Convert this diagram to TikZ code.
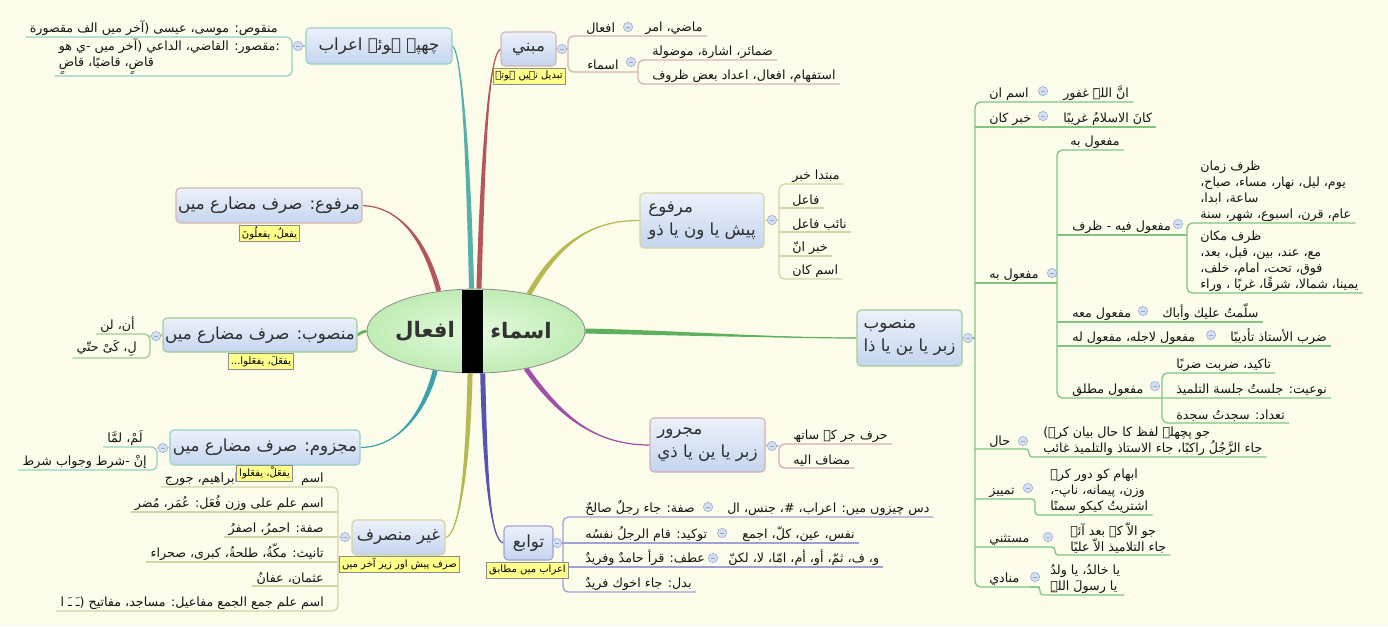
\documentclass[tikz,border=0pt]{standalone}
\usepackage{fontspec}
\setmainfont{DejaVu Sans}
\newfontfamily\arabicfont[Script=Arabic]{DejaVu Sans}
\TeXXeTstate=1
\usetikzlibrary{calc,shapes.geometric}
\newcommand\ar[1]{\beginR#1\endR}
\definecolor{bgc}{RGB}{252,252,234}
\definecolor{tTop}{RGB}{236,241,251}
\definecolor{tBot}{RGB}{196,213,238}
\definecolor{tText}{RGB}{45,45,45}
\definecolor{txt}{RGB}{20,20,20}
\definecolor{noteY}{RGB}{255,255,140}
\definecolor{knobF}{RGB}{212,223,243}
\definecolor{knobD}{RGB}{150,168,205}
\definecolor{cTeal}{RGB}{86,175,168}
\definecolor{cTealB}{RGB}{60,162,170}
\definecolor{cRed}{RGB}{181,87,90}
\definecolor{cOlive}{RGB}{184,184,80}
\definecolor{cGreen}{RGB}{94,176,94}
\definecolor{cBlue}{RGB}{85,85,176}
\definecolor{cPurple}{RGB}{160,80,168}
\definecolor{lTeal}{RGB}{150,208,196}
\definecolor{lGreen}{RGB}{160,204,150}
\definecolor{lOlive}{RGB}{212,212,165}
\definecolor{lRed}{RGB}{214,180,176}
\definecolor{lGreen8}{RGB}{130,196,130}
\definecolor{lPink}{RGB}{214,172,186}
\definecolor{lBlue}{RGB}{160,160,212}
\definecolor{rootIn}{RGB}{228,250,222}
\definecolor{rootOut}{RGB}{192,236,180}
\definecolor{rootText}{RGB}{50,50,50}
\pgfdeclarelayer{back}
\pgfdeclarelayer{conn}
\pgfsetlayers{back,conn,main}
\newcommand\rk[4]{\node[kid,anchor=south west] (#1) at (#2,#3-1.5) {#4}; \coordinate (#1-e) at ($(#1.south east)+(4,1.5)$);}
\newcommand\lk[4]{\node[kid,anchor=south east] (#1) at (#2,#3-1.5) {#4}; \coordinate (#1-e) at ($(#1.south west)+(-4,1.5)$);}
\newcommand\taper[7]{\fill[#7] ($#1+(#5,#6)$) .. controls ($#2+(#5,#6)$) and #3 .. #4 .. controls #3 and ($#2-(#5,#6)$) .. ($#1-(#5,#6)$) -- cycle; \draw[#7,line width=0.9pt] #1 .. controls #2 and #3 .. #4;}
\newcommand\knm{\textcolor{knobD}{\rule{3pt}{0.6pt}}}
\begin{document}
\begin{tikzpicture}[x=0.75pt,y=-0.75pt,
 kid/.style={inner sep=0pt, font=\arabicfont\fontsize{9.5}{12}\selectfont, text=txt, align=left},
 topic/.style={rounded corners=3pt, draw=#1, line width=0.8pt, top color=tTop, bottom color=tBot, font=\arabicfont\fontsize{12.5}{17}\selectfont, text=tText, inner sep=0pt, align=left},
 note/.style={fill=noteY, draw=black!45, line width=0.4pt, inner xsep=2pt, inner ysep=0pt, minimum height=12pt, font=\arabicfont\fontsize{7.5}{9}\selectfont, text=black},
 knob/.style={circle, fill=knobF, draw=knobD, line width=0.4pt, minimum size=7pt, inner sep=0pt},
 ul/.style={line width=1pt},
 rc/.style={rounded corners=4pt},
 rcs/.style={rounded corners=2.5pt},
 rootnode/.style={ellipse, draw=black!45, line width=0.6pt, inner color=rootIn, outer color=rootOut, minimum width=163.5pt, minimum height=63pt, inner sep=0pt},
 roottext/.style={font=\arabicfont\bfseries\fontsize{16}{18}\selectfont, text=rootText, inner sep=0pt}]
\begin{pgfonlayer}{back}
\fill[bgc] (0,0) rectangle (1388,626);
\end{pgfonlayer}
\useasboundingbox (0,0) rectangle (1388,626);

% root
\node[rootnode] (root) at (476,331) {};
\node[roottext] (tf) at (425,331) {\ar{افعال}};
\node[roottext] (ta) at (521,331) {\ar{اسماء}};
\node[fill=black, inner sep=0pt, minimum width=15.75pt, minimum height=62.25pt] (bar) at (472.5,331.5) {};

% topics
\node[topic=lTeal, minimum width=109.5pt, minimum height=27pt] (B1) at (379,46) {\ar{چھپے ہوئے اعراب}};
\node[topic=lRed, minimum width=139.5pt, minimum height=26.25pt] (B2) at (269,205.5) {\ar{مرفوع: صرف مضارع میں}};
\node[topic=lGreen, minimum width=145.5pt, minimum height=25.5pt] (B3) at (260,335) {\ar{منصوب: صرف مضارع میں}};
\node[topic=lTeal, minimum width=142.5pt, minimum height=26.25pt] (B4) at (265,447.5) {\ar{مجزوم: صرف مضارع میں}};
\node[topic=lOlive, minimum width=69.75pt, minimum height=26.25pt] (B5) at (398.5,537.5) {\ar{غیر منصرف}};
\node[topic=lRed, minimum width=41.25pt, minimum height=25.5pt] (B6) at (528.5,49) {\ar{مبني}};
\node[topic=lOlive, minimum width=93pt, minimum height=41.25pt] (B7) at (702,220.5) {\ar{مرفوع}\\\ar{پیش یا ون یا ذو}};
\node[topic=lGreen, minimum width=78.75pt, minimum height=42pt] (B8) at (909.5,338) {\ar{منصوب}\\\ar{زبر یا ین یا ذا}};
\node[topic=lPink, minimum width=86.25pt, minimum height=40.5pt] (B9) at (707.5,445) {\ar{مجرور}\\\ar{زبر یا ین یا ذي}};
\node[topic=lBlue, minimum width=36.75pt, minimum height=25.5pt] (B10) at (528.5,543) {\ar{توابع}};

% connectors
\begin{pgfonlayer}{conn}
\taper{(root.96)}{(468,140)}{(461,52)}{(B1.east)}{2.5}{0}{cTeal}
\taper{(root.86)}{(483,150)}{(489,55)}{(B6.west)}{2.5}{0}{cRed}
\taper{(root.133)}{(425,240)}{(400,207)}{(B2.east)}{2.3}{-0.8}{cRed}
\taper{(root.35)}{(558,243)}{(592,220)}{(B7.west)}{2.2}{1.2}{cOlive}
\taper{(root.east)}{(680,333)}{(780,338)}{(B8.west)}{0}{2.5}{cGreen}
\draw[cGreen, line width=2pt] (root.west) .. controls (362,332) .. (B3.east);
\taper{(root.224)}{(425,410)}{(400,447)}{(B4.east)}{2.4}{0.6}{cTealB}
\taper{(root.262)}{(468,470)}{(459,535)}{(B5.east)}{2.5}{0}{cOlive}
\taper{(root.279)}{(485,470)}{(490,541)}{(B10.west)}{2.5}{0}{cBlue}
\taper{(root.323)}{(556,410)}{(590,445)}{(B9.west)}{2.2}{-1.2}{cPurple}
\end{pgfonlayer}

% ---- B1 children
\lk{c1a}{278}{37}{\ar{منقوص: موسی، عیسی (آخر میں الف مقصورة}}
\lk{c1b}{280}{76}{\ar{:مقصور: القاضي، الداعي (آخر میں -ي ھو}\\\ar{قاضٍ، قاضیًا، قاضٍ}}
\draw[lTeal,ul,rc] (c1a-e) -- (292,37) -- (292,76) -- (c1b-e);
\draw[lTeal,ul] (B1.west) -- (292,46);
\node[knob] (k1) at (298,46) {\knm};

% ---- B3 children
\lk{c3a}{135}{334}{\ar{أن، لن}}
\lk{c3b}{137}{358}{\ar{لِ، کَیْ حتّي}}
\draw[lGreen,ul,rc] (c3a-e) -- (150,334) -- (150,358) -- (c3b-e);
\draw[lGreen,ul] (B3.west) -- (150,336);
\node[knob] (k3) at (156,336) {\knm};

% ---- B4 children
\lk{c4a}{143}{447}{\ar{لَمْ، لمَّا}}
\lk{c4b}{147}{470}{\ar{إنْ -شرط وجواب شرط}}
\draw[lTeal,ul,rc] (c4a-e) -- (157,447) -- (157,470) -- (c4b-e);
\draw[lTeal,ul] (B4.west) -- (157,448);
\node[knob] (k4) at (163,448) {\knm};

% ---- B5 children
\lk{c5a}{324}{487}{\ar{اسم\hspace{40pt}: ابراهیم، جورج}}
\lk{c5b}{324}{512}{\ar{اسم علم على وزن فُعَل: عُمَر، مُضر}}
\lk{c5c}{324}{537}{\ar{صفة: احمرُ، اصفرُ}}
\lk{c5d}{324}{562}{\ar{تانیث: مکّةُ، طلحةُ، کبری، صحراء}}
\lk{c5e}{324}{586}{\ar{عثمان، عفانُ}}
\lk{c5f}{324}{611}{\ar{اسم علم جمع الجمع مفاعیل: مساجد، مفاتیح (ـَ ـَ ا}}
\draw[lOlive,ul,rc] (c5a-e) -- (338,487) -- (338,611) -- (c5f-e);
\draw[lOlive,ul] (338,512) -- (c5b-e);
\draw[lOlive,ul] (338,537) -- (c5c-e);
\draw[lOlive,ul] (338,562) -- (c5d-e);
\draw[lOlive,ul] (338,586) -- (c5e-e);
\draw[lOlive,ul] (B5.west) -- (338,537);
\node[knob] (k5) at (345,537) {\knm};

% ---- B6 children
\rk{r6a}{586}{36}{\ar{افعال}}
\rk{r6a1}{645}{36}{\ar{ماضي، امر}}
\rk{r6b}{587}{72}{\ar{اسماء}}
\rk{r6b1}{652}{60}{\ar{ضمائر، اشارة، موضولة}}
\rk{r6b2}{652}{84}{\ar{استفهام، افعال، اعداد بعض ظروف}}
\draw[lRed,ul,rc] (r6a1-e) -- (568,36) -- (568,72) -- (638,72);
\draw[lRed,ul,rc] (r6b1-e) -- (638,60) -- (638,84) -- (r6b2-e);
\draw[lRed,ul] (B6.east) -- (568,49);
\node[knob] (k6) at (562,49) {\knm};
\node[knob] (k6a) at (628,27) {\knm};
\node[knob] (k6b) at (631,62) {\knm};

% ---- B7 children
\rk{r7a}{792}{184}{\ar{مبتدا خبر}}
\rk{r7b}{792}{208}{\ar{فاعل}}
\rk{r7c}{792}{232}{\ar{نائب فاعل}}
\rk{r7d}{792}{256}{\ar{خبر انّ}}
\rk{r7e}{792}{279}{\ar{اسم کان}}
\draw[lOlive,ul,rc] (r7a-e) -- (779,184) -- (779,279) -- (r7e-e);
\draw[lOlive,ul] (779,208) -- (r7b-e);
\draw[lOlive,ul] (779,232) -- (r7c-e);
\draw[lOlive,ul] (779,256) -- (r7d-e);
\draw[lOlive,ul] (B7.east) -- (779,220);
\node[knob] (k7) at (772,220) {\knm};

% ---- B8 children
\rk{r8a}{989}{102}{\ar{اسم ان}}
\rk{r8a1}{1063}{102}{\ar{انَّ اللہَ غفور}}
\rk{r8b}{989}{127}{\ar{خبر کان}}
\rk{r8b1}{1063}{127}{\ar{کانَ الاسلامُ غریبًا}}
\rk{r8c}{989}{283}{\ar{مفعول به}}
\rk{r8c1}{1070}{150}{\ar{مفعول به}}
\rk{r8c2}{1072}{235}{\ar{مفعول فیه - ظرف}}
\rk{r8c2a}{1200}{223}{\ar{ظرف زمان}\\\ar{یوم، لیل، نهار، مساء، صباح،}\\\ar{ساعة، ابدا،}\\\ar{عام، قرن، اسبوع، شهر، سنة}}
\rk{r8c2b}{1200}{293}{\ar{ظرف مکان}\\\ar{مع، عند، بین، قبل، بعد،}\\\ar{فوق، تحت، امام، خلف،}\\\ar{یمینا، شمالا، شرقًا، غربًا ، وراء}}
\rk{r8c3}{1072}{322}{\ar{مفعول معه}}
\rk{r8c3a}{1162}{322}{\ar{سلّمتُ علیك وأباك}}
\rk{r8c4}{1072}{346}{\ar{مفعول لاجله، مفعول له}}
\rk{r8c4a}{1230}{346}{\ar{ضرب الأستاذ تأدیبًا}}
\rk{r8c5}{1072}{398}{\ar{مفعول مطلق}}
\rk{r8c5a}{1176}{373}{\ar{تاکید، ضربت ضربًا}}
\rk{r8c5b}{1176}{398}{\ar{نوعیت: جلستُ جلسة التلمیذ}}
\rk{r8c5c}{1176}{423}{\ar{تعداد: سجدتُ سجدة}}
\rk{r8d}{989}{449}{\ar{حال}}
\rk{r8d1}{1043}{457}{\ar{جو پچھلے لفظ کا حال بیان کرے)}\\\ar{جاء الرَّجُلُ راکبًا، جاء الاستاذ والتلمیذ غائب}}
\rk{r8e}{989}{499}{\ar{تمییز}}
\rk{r8e1}{1050}{515}{\ar{ابهام کو دور کرے}\\\ar{وزن، پیمانه، ناپ-،}\\\ar{اشتریتُ کیکو سمنًا}}
\rk{r8f}{989}{547}{\ar{مستثني}}
\rk{r8f1}{1070}{555}{\ar{جو الاّ کے بعد آئے}\\\ar{جاء التلامیذ الاّ علیًا}}
\rk{r8g}{989}{587}{\ar{منادي}}
\rk{r8g1}{1050}{595}{\ar{یا خالدُ، یا ولدُ}\\\ar{یا رسولَ اللہِ}}
\draw[lGreen8,ul,rc] (r8a1-e) -- (975,102) -- (975,587) -- (1040,587);
\draw[lGreen8,ul,rcs] (1030,587) -- (1040,587) -- (1040,595) -- (r8g1-e);
\draw[lGreen8,ul] (975,127) -- (r8b1-e);
\draw[lGreen8,ul] (975,283) -- (1057,283);
\draw[lGreen8,ul,rc] (r8c1-e) -- (1057,150) -- (1057,398) -- (r8c5b-e);
\draw[lGreen8,ul] (1057,235) -- (1187,235);
\draw[lGreen8,ul,rc] (r8c2a-e) -- (1187,223) -- (1187,293) -- (r8c2b-e);
\draw[lGreen8,ul] (1057,322) -- (r8c3a-e);
\draw[lGreen8,ul] (1057,346) -- (r8c4a-e);
\draw[lGreen8,ul,rc] (r8c5a-e) -- (1162,373) -- (1162,423) -- (r8c5c-e);
\draw[lGreen8,ul,rcs] (975,449) -- (1029,449) -- (1029,457) -- (r8d1-e);
\draw[lGreen8,ul,rcs] (975,499) -- (1035,499) -- (1035,515) -- (r8e1-e);
\draw[lGreen8,ul,rcs] (975,547) -- (1055,547) -- (1055,555) -- (r8f1-e);
\draw[lGreen8,ul] (B8.east) -- (975,338);
\node[knob] (k8) at (968,338) {\knm};
\node[knob] (k8a) at (1043,91) {\knm};
\node[knob] (k8b) at (1043,116) {\knm};
\node[knob] (k8c) at (1052,273) {\knm};
\node[knob] (k8c2) at (1178,224) {\knm};
\node[knob] (k8c3) at (1143,311) {\knm};
\node[knob] (k8c4) at (1211,335) {\knm};
\node[knob] (k8c5) at (1155,386) {\knm};
\node[knob] (k8d) at (1023,441) {\knm};
\node[knob] (k8e) at (1028,488) {\knm};
\node[knob] (k8f) at (1048,537) {\knm};
\node[knob] (k8g) at (1035,577) {\knm};

% ---- B9 children
\rk{r9a}{793}{444}{\ar{حرف جر کے ساتھ}}
\rk{r9b}{793}{468}{\ar{مضاف الیه}}
\draw[lPink,ul,rc] (r9a-e) -- (779,444) -- (779,468) -- (r9b-e);
\draw[lPink,ul] (B9.east) -- (779,446);
\node[knob] (k9) at (772,446) {\knm};

% ---- B10 children
\rk{r10a}{585}{517}{\ar{صفة: جاء رجلٌ صالحٌ}}
\rk{r10a1}{727}{517}{\ar{دس چیزوں میں: اعراب، \#، جنس، ال}}
\rk{r10b}{585}{543}{\ar{توکید: قام الرجلُ نفسُه}}
\rk{r10b1}{742}{543}{\ar{نفس، عین، کلّ، اجمع}}
\rk{r10c}{585}{567}{\ar{عطف: قرأ حامدٌ وفریدٌ}}
\rk{r10c1}{728}{567}{\ar{و، ف، ثمّ، أو، أم، امّا، لا، لکنّ}}
\rk{r10d}{585}{592}{\ar{بدل: جاء اخوك فریدٌ}}
\draw[lBlue,ul,rc] (r10a1-e) -- (563,517) -- (563,592) -- (r10d-e);
\draw[lBlue,ul] (563,543) -- (r10b1-e);
\draw[lBlue,ul] (563,567) -- (r10c1-e);
\draw[lBlue,ul] (B10.east) -- (563,543);
\node[knob] (k10) at (557,543) {\knm};
\node[knob] (k10a) at (708,507) {\knm};
\node[knob] (k10b) at (722,533) {\knm};
\node[knob] (k10c) at (713,558) {\knm};

% ---- notes
\node[note] (n2) at (269.5,233) {\ar{یفعلُ، یفعلُونَ}};
\node[note] (n3) at (261,361.5) {\ar{یفعَلَ، یفعَلوا...}};
\node[note] (n4) at (264.5,473) {\ar{یفعَلْ، یفعَلوا}};
\node[note] (n5) at (399.5,564.5) {\ar{صرف پیش اور زیر آخر میں}};
\node[note] (n6) at (529,76) {\ar{تبدیل نہیں ہوتے}};
\node[note] (n10) at (527.5,570) {\ar{اعراب میں مطابق}};
\end{tikzpicture}
\end{document}
